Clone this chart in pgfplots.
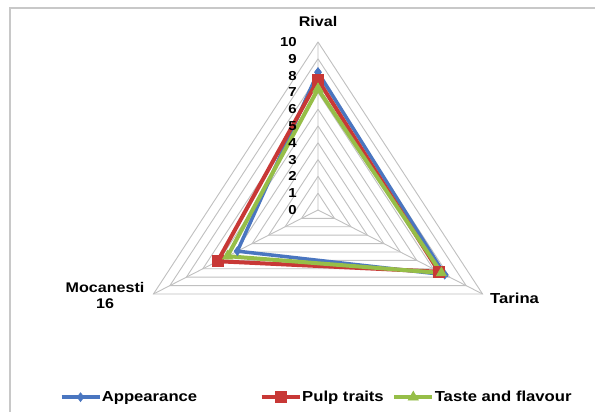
\documentclass[border=0pt]{standalone}
\usepackage{fontspec}
\setmainfont{Liberation Sans}[FakeStretch=1.15]
\usepackage{pgfplots}
\usepackage{pgfplotstable}
\pgfplotsset{compat=1.18}
\definecolor{serblue}{RGB}{74,118,192}
\definecolor{serred}{RGB}{200,56,54}
\definecolor{sergreen}{RGB}{150,190,72}
\definecolor{gridc}{RGB}{192,192,192}
\definecolor{framec}{RGB}{200,200,200}

\pgfplotstableread{
a v
90 8.2
330 7.7
210 4.9
90 8.2
}\appearance
\pgfplotstableread{
a v
90 7.75
330 7.35
210 6.1
90 7.75
}\pulp
\pgfplotstableread{
a v
90 7.2
330 7.5
210 5.5
90 7.2
}\taste

\begin{document}
\begin{tikzpicture}[x=1pt,y=1pt]
\path[use as bounding box] (0,0) rectangle (595,412);
\fill[white] (0,0) rectangle (595,412);
\draw[framec, line width=2pt] (10,0) -- (10,404) -- (596,404);
\begin{axis}[
  at={(0,0)}, anchor=south west,
  x=19pt, y=16.8pt,
  xmin=-16.737, xmax=14.579, ymin=-12.024, ymax=12.5,
  axis lines=none, ticks=none, clip=false,
  legend columns=-1,
  legend style={draw=none, fill=none, at={(0.531,0.036)}, anchor=center,
    font=\fontsize{14.5}{16}\selectfont\bfseries,
    inner xsep=0pt,
    nodes={inner xsep=0.5pt}},
  legend image code/.code={
    \draw[mark repeat=2,mark phase=2] plot coordinates {(0pt,0pt)(19pt,0pt)(38pt,0pt)};
  },
]
\pgfplotsinvokeforeach{1,...,10}{
  \addplot[gridc, line width=0.9pt, forget plot] table[row sep=\\, x expr={\thisrow{v}*cos(\thisrow{a})}, y expr={\thisrow{v}*sin(\thisrow{a})}] {a v\\ 90 #1\\ 330 #1\\ 210 #1\\ 90 #1\\};
}
\addplot[gridc, line width=0.9pt, forget plot] table[row sep=\\, x expr={\thisrow{v}*cos(\thisrow{a})}, y expr={\thisrow{v}*sin(\thisrow{a})}] {a v\\ 90 10\\ 90 0\\ 330 10\\ 330 0\\ 210 10\\};
\addplot[serblue, line width=3.5pt, mark=diamond*, mark size=4.5pt, mark options={solid, line width=0.5pt}] table[x expr={\thisrow{v}*cos(\thisrow{a})}, y expr={\thisrow{v}*sin(\thisrow{a})}] {\appearance};
\addlegendentry{Appearance\rule{62pt}{0pt}}
\addplot[serred, line width=4pt, mark=square*, mark size=5.5pt, mark options={solid, line width=0.5pt}] table[x expr={\thisrow{v}*cos(\thisrow{a})}, y expr={\thisrow{v}*sin(\thisrow{a})}] {\pulp};
\addlegendentry{Pulp traits\rule{8pt}{0pt}}
\addplot[sergreen, line width=4pt, mark=triangle*, mark size=6pt, mark options={solid, line width=0.5pt}] table[x expr={\thisrow{v}*cos(\thisrow{a})}, y expr={\thisrow{v}*sin(\thisrow{a})}] {\taste};
\addlegendentry{Taste and flavour}
\pgfplotsinvokeforeach{0,...,10}{
  \node[anchor=east, inner sep=0pt, font=\fontsize{13}{14}\selectfont\bfseries] at (axis cs:0,#1) [xshift=-21pt] {#1};
}
\node[font=\fontsize{14}{16}\selectfont\bfseries] at (axis cs:0,11.2) {Rival};
\node[anchor=west, inner sep=0pt, font=\fontsize{14.5}{16}\selectfont\bfseries] at (axis cs:9.05,-5.24) {Tarina};
\node[align=center, inner sep=0pt, font=\fontsize{14}{16}\selectfont\bfseries] at (axis cs:-11.21,-5.1) {Mocanesti\\16};
\end{axis}
\end{tikzpicture}
\end{document}
